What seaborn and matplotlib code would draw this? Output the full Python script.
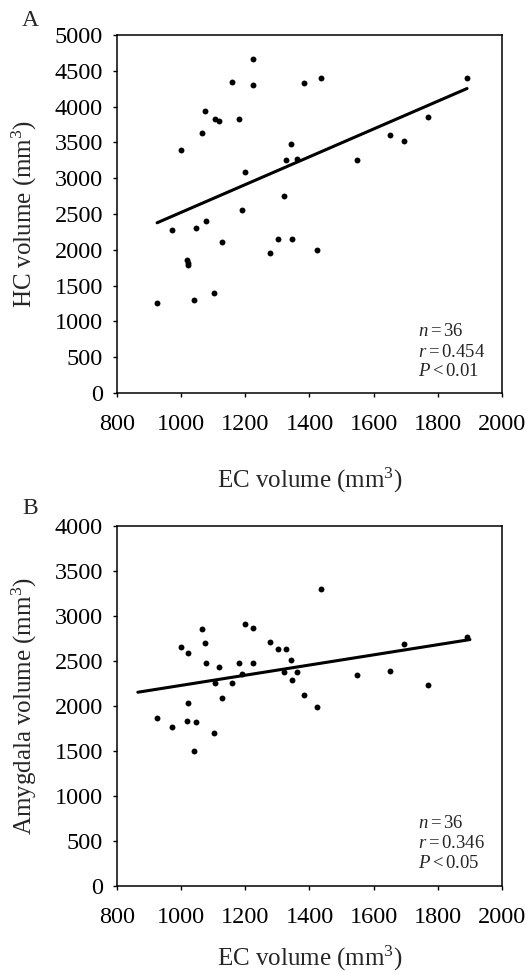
import numpy as np
import pandas as pd
import matplotlib
matplotlib.use('Agg')
import matplotlib.pyplot as plt
import seaborn as sns

# EC volume is shared by both panels (36 subjects)
ec_volume = [925, 970, 998, 1017, 1020, 1021, 1041, 1046, 1065, 1073, 1076, 1102,
             1104, 1119, 1128, 1160, 1181, 1191, 1200, 1223, 1225, 1276, 1302, 1322,
             1327, 1341, 1347, 1362, 1384, 1423, 1437, 1549, 1652, 1696, 1770, 1891]
hc_volume = [1257, 2281, 3394, 1858, 1788, 1820, 1299, 2309, 3627, 3939, 2398, 1401,
             3822, 3794, 2105, 4348, 3822, 2551, 3091, 4306, 4660, 1951, 2147, 2751,
             3254, 3482, 2147, 3264, 4325, 1993, 4404, 3250, 3603, 3524, 3850, 4404]
amygdala_volume = [1863, 1763, 2652, 1837, 2593, 2033, 1500, 1826, 2856, 2696, 2478, 1704,
                   2259, 2433, 2089, 2259, 2478, 2352, 2911, 2478, 2863, 2707, 2637, 2374,
                   2637, 2511, 2292, 2374, 2122, 1985, 3303, 2348, 2393, 2693, 2233, 2770]

stats_a = ['$n = 36$', '$r = 0.454$', '$P < 0.01$']
stats_b = ['$n = 36$', '$r = 0.346$', '$P < 0.05$']

df = pd.DataFrame({'EC': ec_volume, 'HC': hc_volume, 'Amygdala': amygdala_volume})

sns.set_style('ticks')
plt.rcParams['font.family'] = ['Liberation Serif', 'DejaVu Serif']
plt.rcParams['mathtext.fontset'] = 'custom'
plt.rcParams['mathtext.rm'] = 'Liberation Serif'
plt.rcParams['mathtext.it'] = 'Liberation Serif:italic'

fig = plt.figure(figsize=(5.26, 9.72), dpi=100)
ax_a = fig.add_axes([0.2224, 0.5957, 0.732, 0.3683])
ax_b = fig.add_axes([0.2224, 0.0885, 0.732, 0.3704])


def style_axes(ax, ymax, ylabel, xlab_y):
    ax.set_xlim(800, 2000)
    ax.set_ylim(0, ymax)
    ax.set_xticks(range(800, 2001, 200))
    ax.set_yticks(range(0, ymax + 1, 500))
    ax.tick_params(direction='out', length=3, width=1, labelsize=17.5,
                   colors='black')
    ax.tick_params(axis='x', pad=12)
    ax.tick_params(axis='y', pad=7)
    for sp in ax.spines.values():
        sp.set_visible(True)
        sp.set_linewidth(1.1)
        sp.set_color('black')
    ax.set_ylabel(ylabel, fontsize=18)
    ax.set_xlabel('EC volume (mm$^3$)', fontsize=18)
    ax.yaxis.set_label_coords(-0.203, 0.5)
    ax.xaxis.set_label_coords(0.5, xlab_y)


# Panel A: HC vs EC
sns.regplot(data=df, x='EC', y='HC', ax=ax_a, ci=None, truncate=True,
            scatter_kws={'s': 18, 'color': 'black', 'linewidths': 0, 'alpha': 1},
            line_kws={'color': 'black', 'linewidth': 2.2})
style_axes(ax_a, 5000, 'HC volume (mm$^3$)', -0.203)

# Panel B: Amygdala vs EC
sns.scatterplot(data=df, x='EC', y='Amygdala', ax=ax_b, s=18, color='black',
                linewidth=0)
slope, intercept = np.polyfit(df['EC'], df['Amygdala'], 1)
fit_x = np.array([865, 1900])
sns.lineplot(x=fit_x, y=slope * fit_x + intercept, ax=ax_b, color='black',
             linewidth=2.2)
style_axes(ax_b, 4000, 'Amygdala volume (mm$^3$)', -0.16)

for ax, lines, ys in [(ax_a, stats_a, [0.159, 0.1006, 0.0475]),
                      (ax_b, stats_b, [0.161, 0.106, 0.05])]:
    for txt, y in zip(lines, ys):
        ax.text(0.782, y, txt, transform=ax.transAxes, fontsize=13.5,
                va='baseline', ha='left')

fig.text(30 / 526, 1 - 21 / 972, 'A', fontsize=17, ha='center', va='center')
fig.text(30 / 526, 1 - 508 / 972, 'B', fontsize=17, ha='center', va='center')

fig.savefig('out.png', dpi=100)
